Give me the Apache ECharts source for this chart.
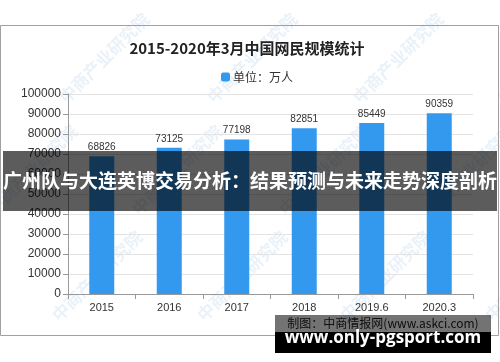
<!DOCTYPE html>
<html>
<head>
<meta charset="utf-8">
<script src="https://cdn.jsdelivr.net/npm/echarts@6/dist/echarts.min.js"></script>
<style>
html,body{margin:0;padding:0;background:#fff;}
#c{width:500px;height:362px;}
</style>
</head>
<body>
<div id="c"></div>
<script>
var categories = ['2015', '2016', '2017', '2018', '2019.6', '2020.3'];
var netizens = [68826, 73125, 77198, 82851, 85449, 90359];
var yTicks = [0, 10000, 20000, 30000, 40000, 50000, 60000, 70000, 80000, 90000, 100000];
var chartTitle = '2015-2020年3月中国网民规模统计';
var legendName = '单位：万人';
var bannerText = '广州队与大连英博交易分析：结果预测与未来走势深度剖析';
var sourceText = '制图：中商情报网(www.askci.com)';
var siteText = 'www.only-pgsport.com';
var watermarkText = '中商产业研究院';

var chart = echarts.init(document.getElementById('c'), null, {renderer: 'canvas'});

var wm = [];
var wmPos = [[62,100],[210,100],[356,100],[500,100],[-10,212],[135,212],[282,212],[428,212],[55,318],[200,318],[343,318],[488,318]];
wmPos.forEach(function (p) {
  wm.push({
    type: 'text', x: p[0], y: p[1], rotation: Math.PI / 4, z: 0, silent: true,
    style: {text: watermarkText, fill: 'rgba(110,160,215,0.15)', font: 'bold 17px "Noto Sans CJK SC"', textVerticalAlign: 'middle'}
  });
});

var option = {
  backgroundColor: '#ffffff',
  animation: false,
  title: {
    text: chartTitle, left: 242, top: 36, textAlign: 'center',
    textStyle: {fontSize: 15, fontWeight: 'bold', color: '#222', fontFamily: '"Noto Sans CJK SC", sans-serif'}
  },
  legend: {
    data: [legendName], top: 66, left: 216, itemWidth: 9, itemHeight: 9, itemGap: 4,
    textStyle: {fontSize: 12, color: '#333', fontFamily: '"Noto Sans CJK SC", sans-serif', padding: [0,0,0,-2]}
  },
  grid: {left: 68, right: 27, top: 94, bottom: 68},
  xAxis: {
    type: 'category', data: categories,
    axisLine: {lineStyle: {color: '#999'}},
    axisTick: {show: true, length: 5, lineStyle: {color: '#999'}},
    axisLabel: {fontSize: 11, color: '#333', margin: 8, fontFamily: '"Liberation Sans", Arial, sans-serif'}
  },
  yAxis: {
    type: 'value', min: yTicks[0], max: yTicks[yTicks.length - 1], interval: yTicks[1] - yTicks[0],
    axisLine: {show: true, lineStyle: {color: '#999'}},
    axisTick: {show: true, length: 5, lineStyle: {color: '#999'}},
    axisLabel: {fontSize: 12, color: '#333', margin: 7, fontFamily: '"Liberation Sans", Arial, sans-serif',
      formatter: function (v) { return String(v); }},
    splitLine: {lineStyle: {color: '#e3e3e3'}}
  },
  series: [{
    name: legendName, type: 'bar', data: netizens, barWidth: 25,
    itemStyle: {color: '#3399ee'},
    label: {show: true, position: 'top', distance: 4, fontSize: 10, color: '#333', fontFamily: '"Liberation Sans", Arial, sans-serif'}
  }],
  graphic: wm.concat([
    {type: 'rect', shape: {x: 0.5, y: 25.5, width: 498, height: 310}, z: 1, silent: true,
     style: {fill: 'none', stroke: '#a0a0a0', lineWidth: 1}},
    {type: 'text', x: 383, y: 323, z: 5, silent: true,
     style: {text: sourceText, fill: '#222', font: '12px "Noto Sans CJK SC"', textAlign: 'center', textVerticalAlign: 'middle'}},
    {type: 'rect', shape: {x: 3, y: 151, width: 494, height: 60}, z: 50, silent: true,
     style: {fill: 'rgba(0,0,0,0.64)'}},
    {type: 'text', x: 250, y: 181, z: 51, silent: true,
     style: {text: bannerText, fill: '#ffffff', font: 'bold 19px "Noto Sans CJK SC"', textAlign: 'center', textVerticalAlign: 'middle'}},
    {type: 'rect', shape: {x: 275, y: 315, width: 216, height: 17}, z: 50, silent: true,
     style: {fill: 'rgba(0,0,0,0.55)'}},
    {type: 'rect', shape: {x: 275, y: 332, width: 216, height: 21}, z: 50, silent: true,
     style: {fill: '#000000'}},
    {type: 'text', x: 383, y: 338, z: 51, silent: true,
     style: {text: siteText, fill: '#ffffff', font: 'bold 17px "Open Sans"', textAlign: 'center', textVerticalAlign: 'middle'}}
  ])
};
chart.setOption(option);
</script>
</body>
</html>
